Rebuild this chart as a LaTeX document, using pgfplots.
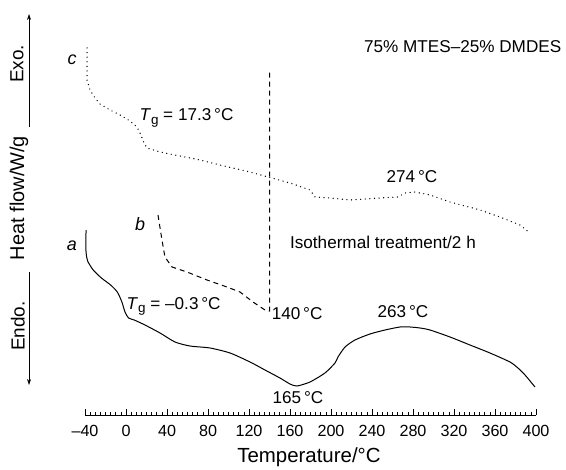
\documentclass[border=0pt]{standalone}
\usepackage{fontspec}
\setmainfont{Liberation Sans}
\usepackage{pgfplots}
\pgfplotsset{compat=1.18}
\usetikzlibrary{arrows.meta}

% glass transition label: italic T with an upright subscript g
\newcommand\Tg{\textit{T}\raisebox{-0.35ex}{\fontsize{13.5}{13.5}\selectfont g}}
\newcommand\annot{\fontsize{17.2}{20}\selectfont}

\begin{document}
\begin{tikzpicture}
\begin{axis}[
  scale only axis, width=451bp, height=401bp,
  xmin=-40, xmax=400, ymin=-415, ymax=-14,
  axis x line=bottom, axis y line=none,
  x axis line style={-, line width=0.6bp},
  ytick=\empty,
  xtick={-40,0,...,400},
  xticklabels={–40,0,40,80,120,160,200,240,280,320,360,400},
  minor x tick num=7,
  tick align=inside,
  major tick length=6bp, minor tick length=3bp,
  every tick/.style={line width=0.6bp, black},
  xticklabel style={font=\fontsize{16.2}{19}\selectfont, yshift=-7bp},
  clip=false,
]
% curve a: as prepared
\addplot[black, line width=1bp, smooth, tension=0.4] coordinates {
(-39.0,-230) (-39.0,-252) (-37.4,-261) (-32.0,-270) (-24.0,-278) (-15.0,-285)
(-8.5,-292) (-4.0,-302) (-1.0,-312) (2.5,-318) (8.0,-320) (18.5,-325) (33.2,-333)
(47.8,-342) (62.4,-346) (82.0,-348) (101.5,-353) (121.0,-362) (135.6,-370)
(150.2,-378) (160.0,-384) (166.8,-386) (179.5,-382) (194.1,-373) (203.9,-363)
(206.8,-357) (213.7,-347) (223.4,-340) (238.0,-334) (252.7,-330) (267.3,-327)
(277.1,-327) (286.8,-328) (296.6,-330) (316.1,-337) (335.6,-345) (355.1,-353)
(374.6,-362) (382.4,-368) (389.3,-375) (399.0,-387)
};
% curve b: heated to 140 C, then held isothermally
\addplot[black, line width=1bp, dash pattern=on 5bp off 4bp] coordinates {
(31.2,-215) (35.1,-240) (38.0,-257) (44.9,-267) (59.5,-272) (79.0,-280)
(98.5,-287) (111.2,-292) (123.9,-302) (135.6,-310) (140,-311) (140,-72)
};
% curve c: after the isothermal treatment
\addplot[black, line width=1.4bp, line cap=round, dash pattern=on 0bp off 4.6bp] coordinates {
(-38.0,-48) (-38.0,-80) (-35.1,-90) (-30.2,-98) (-25.4,-104) (-15.6,-110)
(-5.9,-115) (3.9,-121) (10.7,-127) (14.6,-135) (17.6,-143) (20.5,-148)
(33.2,-152) (52.7,-156) (72.2,-160) (91.7,-165) (121.0,-172) (138.5,-177)
(160.0,-183) (179.5,-190) (184.4,-197) (199.0,-198) (218.5,-200) (247.8,-198)
(265.4,-197) (272.2,-193) (281.9,-192) (296.6,-195) (316.1,-202) (345.4,-210)
(364.9,-217) (384.4,-225) (394.1,-233)
};

% curve letters
\node[font=\fontsize{18}{20}\selectfont\itshape] at (axis cs:-52.7,-60) {c};
\node[font=\fontsize{18}{20}\selectfont\itshape] at (axis cs:13.7,-224) {b};
\node[font=\fontsize{18}{20}\selectfont\itshape] at (axis cs:-52.7,-246) {a};

% annotations
\node[anchor=west, inner sep=0pt, font=\annot] at (axis cs:13.0,-118) {\Tg{} = 17.3\,°C};
\node[anchor=west, inner sep=0pt, font=\annot] at (axis cs:0.5,-306) {\Tg{} = –0.3\,°C};
\node[anchor=west, inner sep=0pt, font=\annot] at (axis cs:142.0,-314) {140\,°C};
\node[font=\annot] at (axis cs:270.2,-312) {263\,°C};
\node[font=\annot] at (axis cs:167.8,-398) {165\,°C};
\node[font=\annot] at (axis cs:279.0,-177) {274\,°C};
\node[font=\annot] at (axis cs:250.7,-242) {Isothermal treatment/2 h};
\node[font=\annot] at (axis cs:328.5,-47) {75\% MTES–25\% DMDES};

% heat-flow direction on the left
\draw[line width=0.6bp, -{Stealth[length=6bp, width=4bp]}] (axis cs:-94.6,-127) -- (axis cs:-94.6,-14);
\draw[line width=0.6bp, -{Stealth[length=6bp, width=4bp]}] (axis cs:-94.6,-272) -- (axis cs:-94.6,-385);
\node[rotate=90, font=\fontsize{19}{22}\selectfont] at (axis cs:-106.3,-64) {Exo.};
\node[rotate=90, font=\fontsize{20}{24}\selectfont] at (axis cs:-104.4,-198) {Heat flow/W/g};
\node[rotate=90, font=\fontsize{19}{22}\selectfont] at (axis cs:-105.4,-326) {Endo.};

% x axis title
\node[font=\fontsize{20.5}{24}\selectfont] at (axis cs:178.5,-457) {Temperature/°C};

% page extent
\path (axis cs:-122.93,0) rectangle (axis cs:429.27,-467);
\end{axis}
\end{tikzpicture}
\end{document}
